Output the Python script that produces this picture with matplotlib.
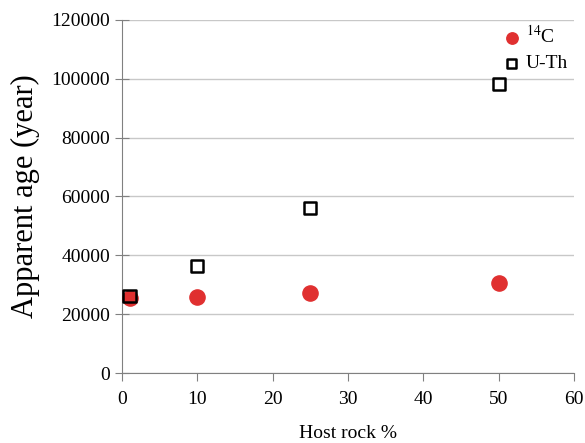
import matplotlib.pyplot as plt

plt.rcParams['font.family'] = ['Liberation Serif', 'DejaVu Serif']
plt.rcParams['mathtext.fontset'] = 'stix'

host_rock = [1, 10, 25, 50]
c14_age = [25500, 26000, 27200, 30600]
uth_age = [26200, 36400, 56100, 98200]

fig = plt.figure(figsize=(5.85, 4.43), dpi=100)
ax = fig.add_axes([0.2085, 0.158, 0.7725, 0.797])

ax.scatter(host_rock, c14_age, s=120, color='#e03030', zorder=3, label=r'$^{14}$C')
ax.scatter(host_rock, uth_age, s=75, marker='s', facecolor='none', edgecolor='black',
           linewidth=1.8, zorder=4, label='U-Th')

ax.set_xlim(0, 60)
ax.set_ylim(0, 120000)
ax.set_xticks(range(0, 61, 10))
ax.set_yticks(range(0, 120001, 20000))
ax.yaxis.grid(True, color='#c8c8c8', linewidth=1)
ax.set_axisbelow(True)

for side in ['top', 'right']:
    ax.spines[side].set_visible(False)
for side in ['left', 'bottom']:
    ax.spines[side].set_color('#808080')
ax.tick_params(axis='both', colors='#808080', labelcolor='black', labelsize=14, length=6)
ax.tick_params(axis='x', pad=7)
ax.tick_params(axis='y', direction='inout', length=10)

ax.set_xlabel('Host rock %', fontsize=14, labelpad=12)
ax.set_ylabel('Apparent age (year)', fontsize=22, labelpad=8)

ax.legend(loc='upper right', bbox_to_anchor=(1.008, 1.013), frameon=False, fontsize=14,
          handletextpad=0.1, borderpad=0.2, labelspacing=0.4, handlelength=1.2,
          markerscale=0.75, borderaxespad=0.3)

fig.savefig('out.png', dpi=100)
